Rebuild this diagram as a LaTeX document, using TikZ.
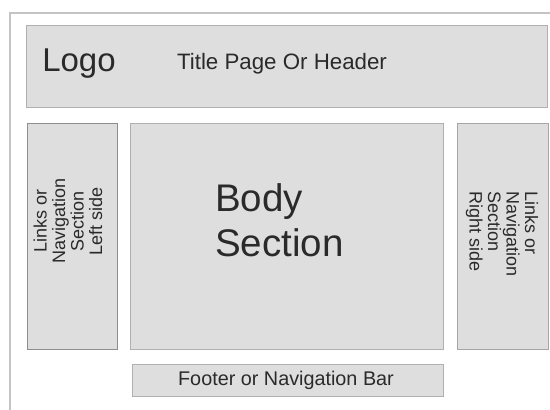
\documentclass[tikz,border=0pt]{standalone}
\usepackage{fontspec}
\setmainfont{Liberation Sans}
\definecolor{boxfill}{HTML}{DFDEDE}
\definecolor{boxline}{HTML}{8E8E8E}
\definecolor{frameline}{HTML}{C4C4C4}
\definecolor{txt}{HTML}{2A2A2A}
\tikzset{
  panel/.style={draw=boxline, line width=0.9pt, fill=boxfill, anchor=north west, inner sep=0pt},
  lbl/.style={text=txt, inner sep=0pt},
}
\begin{document}
\begin{tikzpicture}[x=1pt,y=-1pt]
\useasboundingbox (0,0) rectangle (550,410);
\fill[white] (0,0) rectangle (550,410);
% outer frame
\coordinate (fa) at (10,410);
\coordinate (fb) at (10,13);
\coordinate (fc) at (550,13);
\draw[frameline, line width=2pt] (fa) -- (fb) -- (fc);
% panels
\node[panel, draw=boxline!70, minimum width=521pt, minimum height=82pt] (header) at (26,25) {};
\node[panel, minimum width=90pt, minimum height=226pt] (leftnav) at (27,123) {};
\node[panel, draw=boxline!70, minimum width=313pt, minimum height=226pt] (body) at (130,123) {};
\node[panel, draw=boxline!80, minimum width=91pt, minimum height=226pt] (rightnav) at (457,123) {};
\node[panel, draw=boxline!70, minimum width=311pt, minimum height=32pt] (footer) at (132,364) {};
% texts
\node[lbl, font=\fontsize{33}{36}\selectfont] (logo) at (79,64) {Logo};
\node[lbl, font=\fontsize{22.3}{24}\selectfont] (title) at (282,64) {Title Page Or Header};
\node[lbl, anchor=west, align=left, font=\fontsize{38.5}{45}\selectfont] (bodytxt) at (215,220) {Body\\Section};
\node[lbl, rotate=90, align=center, font=\fontsize{18}{18.5}\selectfont] (lefttxt) at (68,221) {Links or\\Navigation\\Section\\Left side};
\node[lbl, rotate=-90, anchor=west, align=left, font=\fontsize{18}{18.5}\selectfont] (righttxt) at (502,191) {Links or\\Navigation\\Section\\Right side};
\node[lbl, font=\fontsize{19.8}{22}\selectfont] (foottxt) at (286,380) {Footer or Navigation Bar};
\end{tikzpicture}
\end{document}
